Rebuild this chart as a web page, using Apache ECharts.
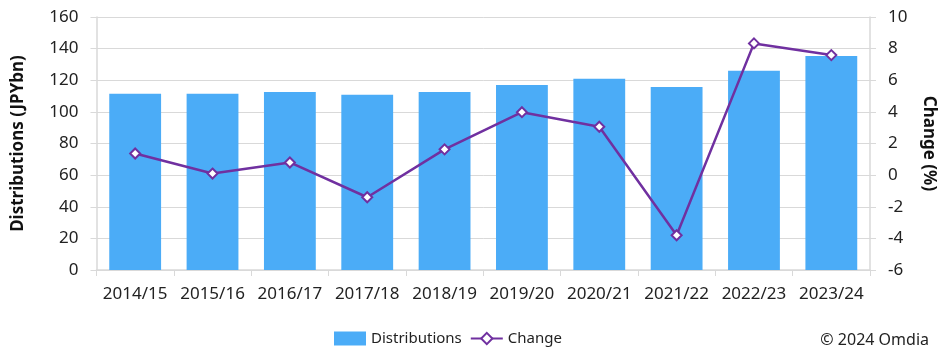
<!DOCTYPE html>
<html><head><meta charset="utf-8">
<script src="https://cdn.jsdelivr.net/npm/echarts@6/dist/echarts.min.js"></script>
<style>html,body{margin:0;padding:0;background:#fff}#c{width:945px;height:355px}</style>
</head><body><div id="c"></div>
<script>
const categories = ['2014/15','2015/16','2016/17','2017/18','2018/19','2019/20','2020/21','2021/22','2022/23','2023/24'];
const distributions = [111.4, 111.4, 112.6, 110.8, 112.6, 117.0, 120.9, 115.8, 126.0, 135.4];
const change = [1.37, 0.1, 0.8, -1.4, 1.63, 3.98, 3.06, -3.8, 8.33, 7.59];
const font = 'Noto Sans';
const chart = echarts.init(document.getElementById('c'), null, {renderer:'canvas'});
chart.setOption({
  animation:false,
  textStyle:{fontFamily:font},
  grid:{left:96.5, right:73, top:17, bottom:85, containLabel:false},
  legend:{
    bottom:4, left:329, itemGap:8, itemWidth:32, itemHeight:14,
    textStyle:{fontFamily:font, fontSize:15, color:'#222'},
    data:[{name:'Distributions', icon:'rect'}, {name:'Change'}]
  },
  graphic:[{type:'text', right:16, bottom:7, style:{text:'© 2024 Omdia', font:'16px "Noto Sans"', fill:'#222'}}],
  xAxis:{
    type:'category', data:categories, boundaryGap:true,
    axisLine:{lineStyle:{color:'#d9d9d9', width:1.5}},
    axisTick:{show:true, length:6, lineStyle:{color:'#d9d9d9'}},
    axisLabel:{color:'#222', fontSize:17, margin:16, interval:0}
  },
  yAxis:[{
    type:'value', min:0, max:160, interval:20,
    name:'Distributions (JPYbn)', nameLocation:'middle', nameGap:70, nameRotate:90,
    nameTextStyle:{fontFamily:font, fontSize:17, fontWeight:'bold', color:'#111'},
    axisLine:{show:true, lineStyle:{color:'#d9d9d9', width:1.5}},
    axisTick:{show:true, length:6, lineStyle:{color:'#d9d9d9'}},
    axisLabel:{color:'#222', fontSize:17, margin:18},
    splitLine:{lineStyle:{color:'#d9d9d9'}}
  },{
    type:'value', min:-6, max:10, interval:2,
    name:'Change (%)', nameLocation:'middle', nameGap:50, nameRotate:-90,
    nameTextStyle:{fontFamily:font, fontSize:17, fontWeight:'bold', color:'#111'},
    axisLine:{show:true, lineStyle:{color:'#d9d9d9', width:1.5}},
    axisTick:{show:true, length:6, lineStyle:{color:'#d9d9d9'}},
    axisLabel:{color:'#222', fontSize:17, margin:18},
    splitLine:{show:false}
  }],
  series:[{
    name:'Distributions', type:'bar', data:distributions, yAxisIndex:0,
    barCategoryGap:'33%', itemStyle:{color:'#4BACF7'}
  },{
    name:'Change', type:'line', data:change, yAxisIndex:1,
    symbol:'diamond', symbolSize:10, showAllSymbol:true,
    lineStyle:{color:'#7030A0', width:2.5},
    itemStyle:{color:'#fff', borderColor:'#7030A0', borderWidth:2}
  }]
});
</script></body></html>
